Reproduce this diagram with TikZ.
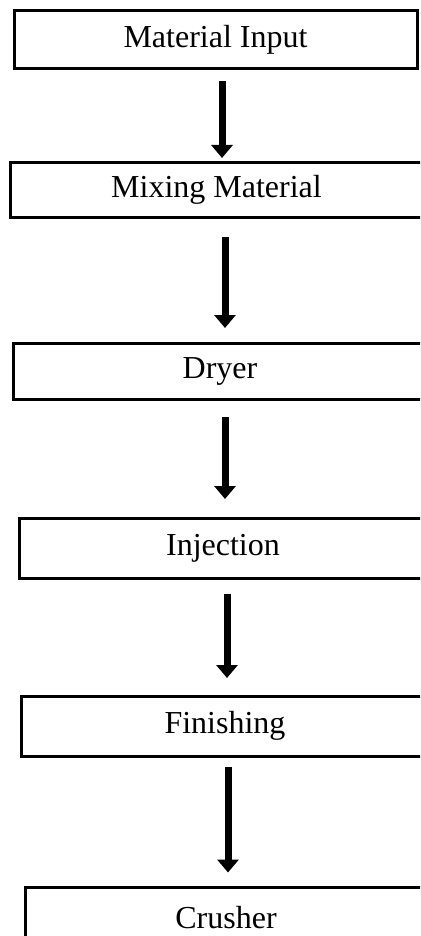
\documentclass[tikz,border=0pt]{standalone}
\usepackage{fontspec}
\setmainfont{Liberation Serif}
\usetikzlibrary{arrows.meta}
\begin{document}
\begin{tikzpicture}[x=1pt,y=-1pt,
  stepbox/.style={draw=black, line width=3pt, fill=white, inner sep=0pt, outer sep=0pt,
    font=\fontsize{32}{38}\selectfont, anchor=center},
  arr/.style={line width=7pt, -{Triangle[width=21pt,length=13pt]}}]
\useasboundingbox (0,0) rectangle (420,936);
\begin{scope}
\clip (0,0) rectangle (420,936);
\node[stepbox, minimum width=403pt, minimum height=58pt] (b1) at (215.5,40) {Material Input};
\node[stepbox, minimum width=413pt, minimum height=54pt] (b2) at (216.5,190) {Mixing Material};
\node[stepbox, minimum width=414pt, minimum height=56pt] (b3) at (220,371) {Dryer};
\node[stepbox, minimum width=408pt, minimum height=60pt] (b4) at (223,548) {Injection};
\node[stepbox, minimum width=408pt, minimum height=60pt] (b5) at (225,726) {Finishing};
\node[stepbox, minimum width=402pt, minimum height=61pt] (b6) at (226,918) {Crusher};
\end{scope}
\coordinate (a1) at (222,0);
\coordinate (a2) at (225,0);
\coordinate (a3) at (225,0);
\coordinate (a4) at (227,0);
\coordinate (a5) at (228,0);
\draw[arr, shorten <=12pt, shorten >=5pt] (b1.south -| a1) -- (b2.north -| a1);
\draw[arr, shorten <=20pt, shorten >=15pt] (b2.south -| a2) -- (b3.north -| a2);
\draw[arr, shorten <=18pt, shorten >=19pt] (b3.south -| a3) -- (b4.north -| a3);
\draw[arr, shorten <=16pt, shorten >=18pt] (b4.south -| a4) -- (b5.north -| a4);
\draw[arr, shorten <=11pt, shorten >=15pt] (b5.south -| a5) -- (b6.north -| a5);
\end{tikzpicture}
\end{document}
